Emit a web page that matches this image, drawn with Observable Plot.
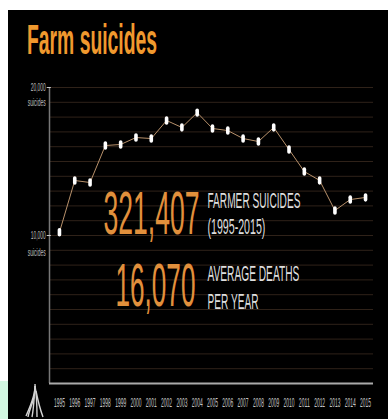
<!DOCTYPE html>
<html>
<head>
<meta charset="utf-8">
<script src="https://cdn.jsdelivr.net/npm/d3@7"></script>
<script src="https://cdn.jsdelivr.net/npm/@observablehq/plot@0.6"></script>
<style>
  html, body { margin: 0; padding: 0; background: #fff; width: 388px; height: 419px; overflow: hidden; }
  #corner { position: absolute; left: 0; top: 381px; width: 8px; height: 38px; background: #d3f8e2; }
  #panel { position: absolute; left: 8px; top: 10px; width: 380px; height: 409px; background: #000; overflow: hidden; }
  h1 { position: absolute; left: 19px; top: 5px; margin: 0; font: bold 43px/48px "Liberation Sans", sans-serif; color: #f0992e; white-space: nowrap; transform-origin: 0 0; }
  #chart { position: absolute; left: 0; top: 66px; }
  #logo { position: absolute; left: 16px; top: 373px; }
  svg { display: block; }
</style>
</head>
<body>
<div id="corner"></div>
<div id="panel">
  <h1 id="title">Farm suicides</h1>
  <div id="chart"></div>
  <svg id="logo" width="26" height="36" viewBox="0 0 26 36" fill="none" stroke="#d4d4d4" stroke-width="1.4">
    <path d="M11 1 C12 10 7 22 2 33"/>
    <path d="M11 3 C10 14 10 24 8 34"/>
    <path d="M11 3 C13 14 13 24 13 34"/>
    <path d="M12 8 C14 18 16 26 19 34"/>
    <path d="M10 14 C8 22 5 28 4 34"/>
  </svg>
</div>
<script>
// National yearly totals, 1995 to 2015
const years = [1995, 1996, 1997, 1998, 1999, 2000, 2001, 2002, 2003, 2004, 2005, 2006, 2007, 2008, 2009, 2010, 2011, 2012, 2013, 2014, 2015];
const suicides = [10220, 13716, 13580, 16080, 16150, 16620, 16550, 17770, 17300, 18300, 17230, 17090, 16550, 16350, 17300, 15810, 14320, 13720, 11690, 12430, 12570];
const gridValues = d3.range(0, 21000, 1000);
const axisValues = [10000, 20000];
const axisLabels = ["10,000", "20,000"];
const unitLabel = "suicides";
const totalLabel = "321,407";
const totalCaption = ["FARMER SUICIDES", "(1995-2015)"];
const averageLabel = "16,070";
const averageCaption = ["AVERAGE DEATHS", "PER YEAR"];

const series = years.map((year, i) => ({year, value: suicides[i]}));

// Tall rounded marker for each year
const pill = {
  draw(ctx) {
    const r = 1.8, h = 2.4;
    ctx.moveTo(-r, -h);
    ctx.arc(0, -h, r, Math.PI, 0);
    ctx.lineTo(r, h);
    ctx.arc(0, h, r, 0, Math.PI);
    ctx.closePath();
  }
};

const orange = "#e2903c";
const pale = "#dedede";

const note = (label, year, value, fontSize, fill) =>
  Plot.text([label], {x: () => year, y: () => value, text: d => d, textAnchor: "start", fontSize, fill});

const plot = Plot.plot({
  width: 380,
  height: 343,
  marginLeft: 41,
  marginRight: 15,
  marginTop: 11,
  marginBottom: 36,
  style: {background: "transparent", fontFamily: "'Liberation Sans', sans-serif"},
  x: {domain: [1994.35, 2015.52], axis: null},
  y: {domain: [0, 20000], axis: null},
  marks: [
    Plot.ruleY(gridValues, {stroke: "#2f2219", strokeWidth: 1}),
    Plot.ruleX([1994.35], {y1: 0, y2: 20000, stroke: "#777", strokeWidth: 1.5}),
    Plot.ruleY([0], {stroke: "#aaa", strokeWidth: 2}),
    Plot.ruleY(axisValues, {x1: 1994.2, x2: 1994.47, stroke: "#ccc", strokeWidth: 1}),
    Plot.text(years, {x: d => d, y: () => 0, text: d => String(d), dy: 20, fontSize: 12, fill: "#c4c4c4"}),
    Plot.text(axisLabels, {x: () => 1994.1, y: (d, i) => axisValues[i], text: d => d, textAnchor: "end", fontSize: 10, fill: "#bdbdbd"}),
    Plot.text([8850, 19000], {x: () => 1994.1, y: d => d, text: () => unitLabel, textAnchor: "end", fontSize: 10, fill: "#bdbdbd"}),
    note(totalLabel, 1997.88, 11420, 62, orange),
    note(totalCaption[0], 2004.67, 12360, 22, pale),
    note(totalCaption[1], 2004.67, 10600, 22, pale),
    note(averageLabel, 1998.66, 6550, 62, orange),
    note(averageCaption[0], 2004.67, 7420, 22, pale),
    note(averageCaption[1], 2004.67, 5540, 22, pale),
    Plot.line(series, {x: "year", y: "value", stroke: "#b8916b", strokeWidth: 1}),
    Plot.dot(series, {x: "year", y: "value", r: 3, symbol: pill, fill: "#fff", stroke: "none"})
  ]
});

document.getElementById("chart").appendChild(plot);

// The typeface is heavily condensed, so each label is scaled to its set width
const fitted = new Map([
  ["321,407", 96], ["16,070", 80],
  ["FARMER SUICIDES", 93], ["(1995-2015)", 58],
  ["AVERAGE DEATHS", 92], ["PER YEAR", 51],
  ["10,000", 15], ["20,000", 15], [unitLabel, 18]
]);
years.forEach(y => fitted.set(String(y), 11));
d3.select(plot).selectAll("text").each(function () {
  const width = fitted.get(this.textContent.trim());
  if (width) {
    const natural = this.getComputedTextLength();
    const placed = this.getAttribute("transform") || "";
    this.setAttribute("transform", `${placed} scale(${width / natural},1)`);
  }
});

// Squeeze the heading to its set width
const title = document.getElementById("title");
title.style.transform = `scaleX(${130 / title.getBoundingClientRect().width})`;
</script>
</body>
</html>
